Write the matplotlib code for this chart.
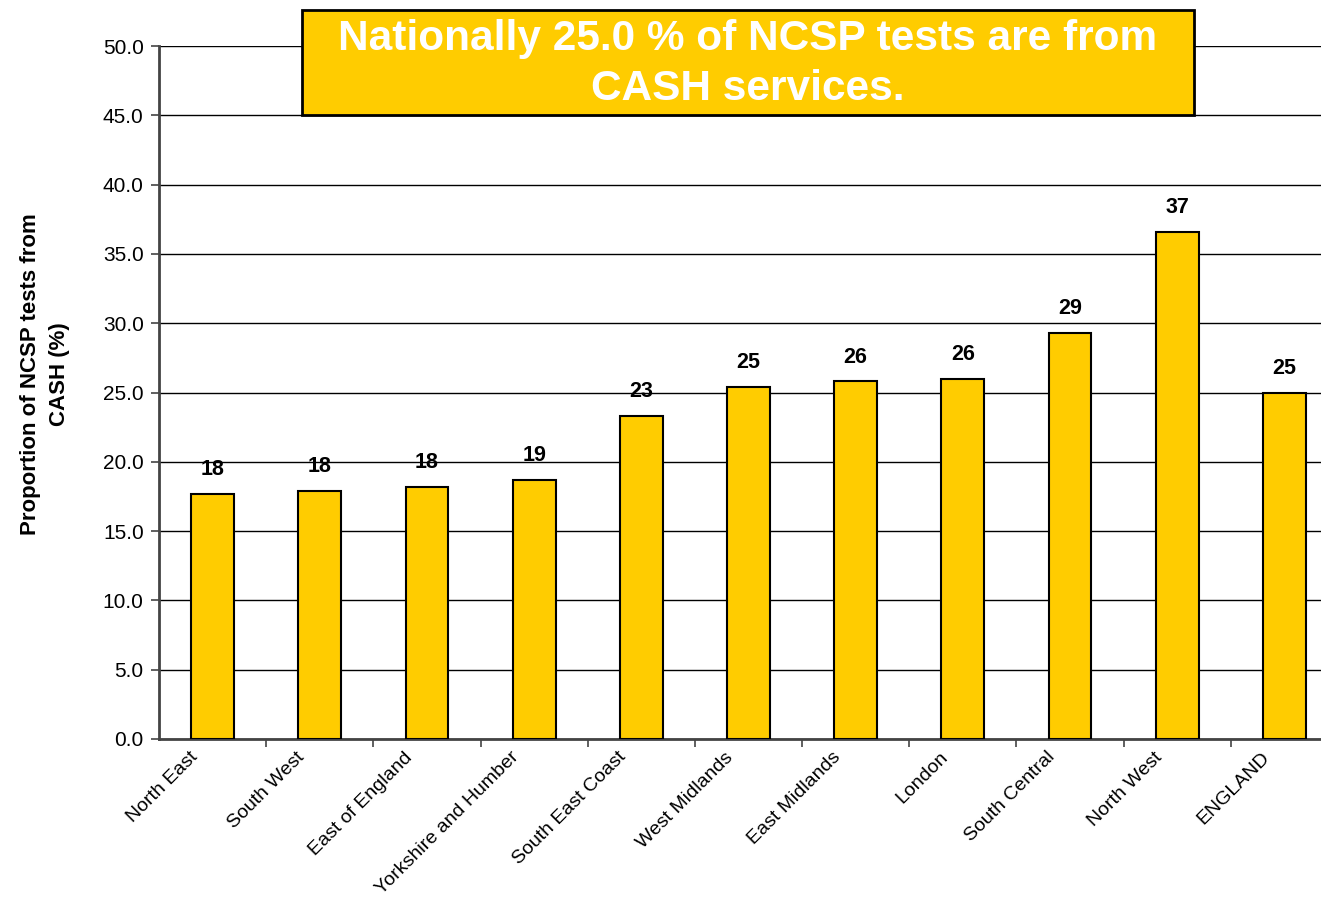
import numpy as np
import matplotlib
matplotlib.use("Agg")
import matplotlib.pyplot as plt
from matplotlib.patches import Rectangle
from matplotlib.ticker import FixedLocator, NullFormatter

# --- data ---
regions = ["North East", "South West", "East of England", "Yorkshire and Humber",
           "South East Coast", "West Midlands", "East Midlands", "London",
           "South Central", "North West", "ENGLAND"]
pct_cash = [17.7, 17.9, 18.2, 18.7, 23.3, 25.4, 25.8, 26.0, 29.3, 36.6, 25.0]
yticks = np.arange(0, 50.1, 5.0)
headline = "Nationally 25.0 % of NCSP tests are from\nCASH services."
ylab = "Proportion of NCSP tests from\nCASH (%)"

plt.rcParams["font.family"] = ["Liberation Sans", "DejaVu Sans"]
YEL = "#FFCC00"

fig = plt.figure(figsize=(13.21, 8.98), dpi=100)
# axes run past the right edge of the figure, as in the original
ax = fig.add_axes([159/1321, 159/898, 1179/1321, 693/898])

x = np.arange(len(regions))
ax.bar(x, pct_cash, width=0.4, color=YEL, edgecolor="black", lw=1.5, zorder=3)
for xi, v in zip(x, pct_cash):
    ax.text(xi, v + 1.75, f"{v:.0f}", ha="center", va="center",
            fontsize=15.5, fontweight="bold", zorder=4)

ax.set_xlim(-0.5, len(regions) - 0.5)
ax.set_ylim(0, 50)
ax.set_yticks(yticks)
ax.set_yticklabels([f"{t:.1f}" for t in yticks], fontsize=15)
ax.yaxis.grid(True, color="black", lw=1.0, zorder=0)
ax.set_axisbelow(True)

# ticks at the category boundaries; labels sit a bit left of the centres
ax.xaxis.set_major_locator(FixedLocator(x + 0.5))
ax.xaxis.set_major_formatter(NullFormatter())
ax.xaxis.set_minor_locator(FixedLocator(x - 0.22))
ax.set_xticklabels(regions, minor=True, rotation=45, ha="right", va="top",
                   rotation_mode="anchor", fontsize=14)
ax.tick_params(axis="x", which="major", direction="out", length=6, width=1.2,
               color="#444444")
ax.tick_params(axis="x", which="minor", length=0, pad=7)
ax.tick_params(axis="y", direction="out", length=6, width=1.2,
               color="#444444", pad=5)
for s in ("top", "right"):
    ax.spines[s].set_visible(False)
for s in ("left", "bottom"):
    ax.spines[s].set_color("#444444")
    ax.spines[s].set_linewidth(2)

fig.text(45/1321, 1 - 374/898, ylab, rotation=90, ha="center", va="center",
         fontsize=16, fontweight="bold", linespacing=1.45)

# headline box
fig.patches.append(Rectangle((302/1321, 1 - 115/898), 892/1321, 105/898,
                             transform=fig.transFigure, facecolor=YEL,
                             edgecolor="black", lw=2, zorder=5))
fig.text(748/1321, 1 - 64/898, headline, ha="center", va="center",
         color="white", fontsize=30.5, fontweight="bold", linespacing=1.33,
         zorder=6)

fig.savefig("out.png", dpi=100)
